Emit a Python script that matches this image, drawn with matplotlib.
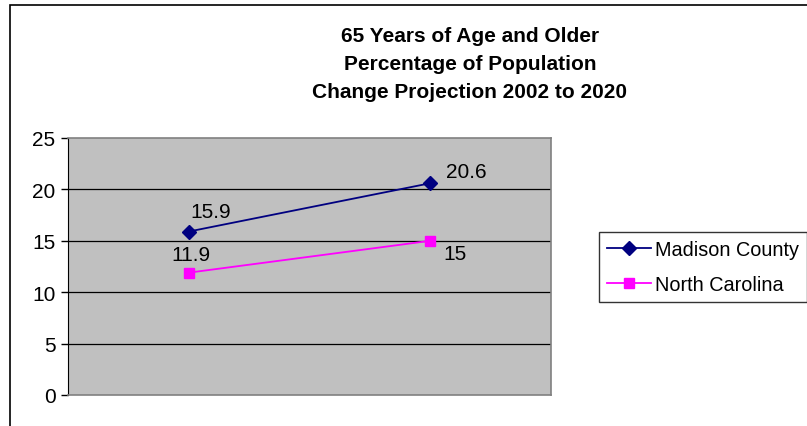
import matplotlib
matplotlib.use("Agg")
import matplotlib.pyplot as plt
from matplotlib.patches import Rectangle

plt.rcParams['font.family'] = ['Liberation Sans', 'DejaVu Sans']

categories = ["2002", "2020"]
madison = [15.9, 20.6]
north_carolina = [11.9, 15.0]
series_names = ["Madison County", "North Carolina"]
title = "65 Years of Age and Older\nPercentage of Population\nChange Projection 2002 to 2020"
yticks = [0, 5, 10, 15, 20, 25]

W, H = 807, 427
fig = plt.figure(figsize=(W / 100, H / 100), dpi=100)
fig.patch.set_facecolor("white")

# outer chart border (extends past right/bottom edge)
fig.add_artist(Rectangle((10 / W, -0.05), 1.2, (H - 6) / H + 0.05, transform=fig.transFigure,
                         fill=False, edgecolor="black", linewidth=1.2))

ax = fig.add_axes([68 / W, (H - 396) / H, (551 - 68) / W, (396 - 139) / H])
ax.set_facecolor("#C0C0C0")
x = [0, 1]
ax.plot(x, madison, color="#000080", marker="D", markersize=7, linewidth=1.3, label=series_names[0], zorder=3)
ax.plot(x, north_carolina, color="#FF00FF", marker="s", markersize=7, linewidth=1.3, label=series_names[1], zorder=3)
ax.set_xlim(-0.5, 1.5)
ax.set_ylim(0, 25)
ax.set_yticks(yticks)
ax.set_xticks([])
ax.tick_params(axis="y", labelsize=15, length=5, width=1, direction="out", pad=4)
for yv in yticks[1:-1]:
    ax.axhline(yv, color="black", linewidth=0.9, zorder=1)
ax.spines["left"].set_color("black")
for s in ["top", "right", "bottom"]:
    ax.spines[s].set_color("#808080")
    ax.spines[s].set_linewidth(1.2)

def fmt(v):
    return f"{v:g}"

mc_offsets = [(2, 20), (16, 12)]
nc_offsets = [(-17, 18), (13, -13)]
for xi, v, off in zip(x, madison, mc_offsets):
    ax.annotate(fmt(v), (xi, v), textcoords="offset pixels", xytext=off, ha="left", va="center", fontsize=15)
for xi, v, off in zip(x, north_carolina, nc_offsets):
    ax.annotate(fmt(v), (xi, v), textcoords="offset pixels", xytext=off, ha="left", va="center", fontsize=15)

fig.text(470 / W, 1 - 65 / H, title, ha="center", va="center", fontsize=15, fontweight="bold", linespacing=1.6)

leg = fig.legend(loc="upper left", bbox_to_anchor=(599 / W, 1 - 233 / H), fontsize=14.3,
                 frameon=True, fancybox=False, edgecolor="black", handlelength=2.2,
                 handletextpad=0.2, borderpad=0.4, labelspacing=0.8, borderaxespad=0)
leg.get_frame().set_linewidth(1.0)

fig.savefig("out.png", dpi=100)
